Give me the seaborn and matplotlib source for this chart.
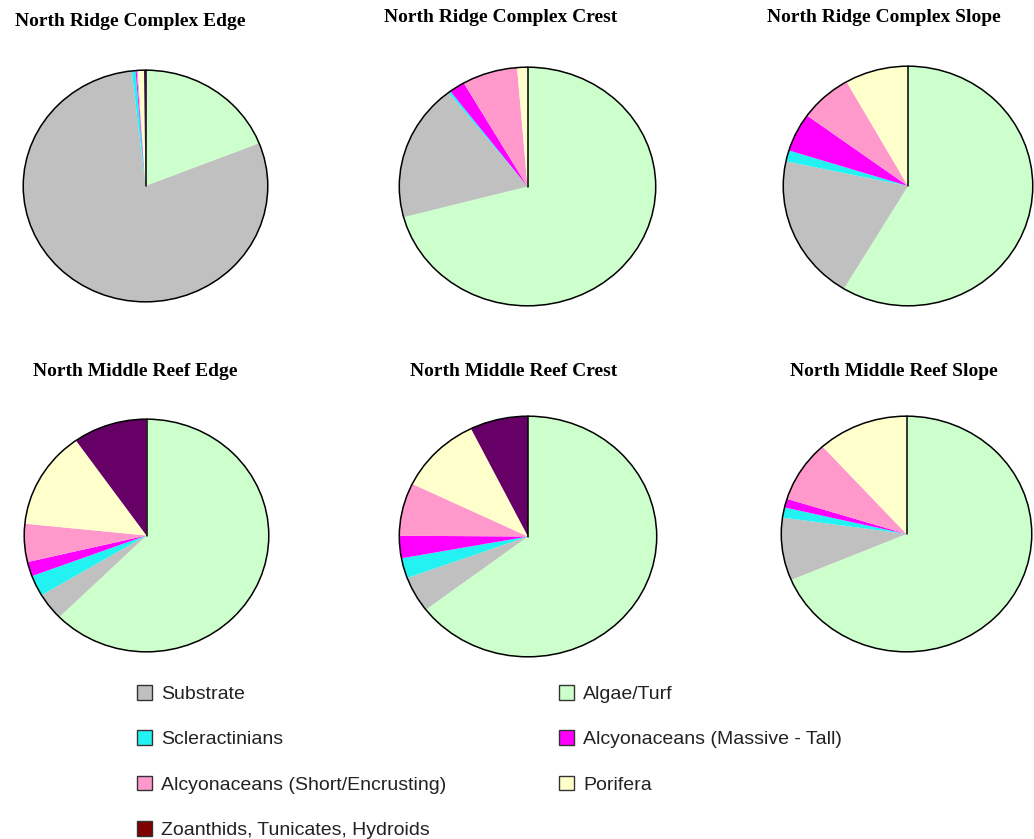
#!/usr/bin/env python3
"""Benthic cover pie charts for North Ridge Complex / North Middle Reef."""

import matplotlib
matplotlib.use("Agg")
import matplotlib.pyplot as plt
import seaborn as sns
from matplotlib.patches import Patch, Ellipse

# ---------------------------------------------------------------------------
# Data (percent cover, clockwise from 12 o'clock)
# ---------------------------------------------------------------------------
categories = [
    "Algae/Turf",
    "Substrate",
    "Scleractinians",
    "Alcyonaceans (Massive - Tall)",
    "Alcyonaceans (Short/Encrusting)",
    "Porifera",
    "Zoanthids, Tunicates, Hydroids",
]

sites = [
    "North Ridge Complex Edge",
    "North Ridge Complex Crest",
    "North Ridge Complex Slope",
    "North Middle Reef Edge",
    "North Middle Reef Crest",
    "North Middle Reef Slope",
]

ridge_edge = [19.0, 79.2, 0.5, 0.15, 0.15, 0.8, 0.2]
ridge_crest = [71.0, 18.6, 0.3, 2.0, 7.0, 1.3, 0.0]
ridge_slope = [58.6, 19.7, 1.5, 5.2, 6.8, 8.2, 0.0]
middle_edge = [62.7, 3.8, 2.9, 2.0, 5.3, 13.6, 9.8]
middle_crest = [64.6, 4.8, 2.7, 3.0, 7.1, 10.5, 7.3]
middle_slope = [68.7, 8.6, 1.4, 1.2, 8.5, 11.7, 0.0]

site_values = [ridge_edge, ridge_crest, ridge_slope,
               middle_edge, middle_crest, middle_slope]

# ---------------------------------------------------------------------------
# Styling
# ---------------------------------------------------------------------------
COLORS = {
    "Algae/Turf": "#CCFFCC",
    "Substrate": "#C0C0C0",
    "Scleractinians": "#22F2F2",
    "Alcyonaceans (Massive - Tall)": "#FF00FF",
    "Alcyonaceans (Short/Encrusting)": "#FF99CC",
    "Porifera": "#FFFFCC",
    "Zoanthids, Tunicates, Hydroids": "#660066",
}
LEGEND_COLORS = dict(COLORS)
LEGEND_COLORS["Zoanthids, Tunicates, Hydroids"] = "#800000"

sns.set_theme(style="white")
plt.rcParams["font.family"] = ["Liberation Sans", "DejaVu Sans"]

W, H = 1034, 839
fig = plt.figure(figsize=(W / 100, H / 100), dpi=100)
fig.patch.set_facecolor("white")

# pie bounding boxes in pixels: (left, top, right, bottom)
boxes = [
    (22, 69, 269, 303),
    (398, 66, 657, 307),
    (782, 65, 1034, 307),
    (23, 418, 270, 653),
    (398, 415, 658, 658),
    (780, 415, 1033, 653),
]
# title centre positions in pixels
title_pos = [(130, 22), (501, 17), (884, 17),
             (135, 371), (514, 371), (894, 371)]

for name, vals, box, tpos in zip(sites, site_values, boxes, title_pos):
    x0, y0, x1, y1 = box
    ax = fig.add_axes([x0 / W, 1 - y1 / H, (x1 - x0) / W, (y1 - y0) / H])
    ax.pie(vals, colors=[COLORS[c] for c in categories], startangle=90,
           counterclock=False, radius=1.0,
           wedgeprops=dict(linewidth=0, edgecolor="none"))
    ax.set_aspect("auto")
    ax.set_xlim(-1.01, 1.01)
    ax.set_ylim(-1.01, 1.01)
    ax.add_patch(Ellipse((0, 0), 2, 2, fill=False, edgecolor="black",
                         linewidth=1.1))
    ax.plot([0, 0], [0, 1], color="black", linewidth=1.1)
    ax.axis("off")
    fig.text(tpos[0] / W, 1 - tpos[1] / H, name, ha="center", va="center",
             fontsize=14, fontweight="bold", family="Liberation Serif",
             color="black")

# ---------------------------------------------------------------------------
# Legend (two columns)
# ---------------------------------------------------------------------------
col1 = [categories[i] for i in (1, 2, 4, 6)]
col2 = [categories[i] for i in (0, 3, 5)]

for items, xpix in ((col1, 137), (col2, 559)):
    handles = [Patch(facecolor=LEGEND_COLORS[c], edgecolor="#333333",
                     linewidth=1.0) for c in items]
    fig.legend(handles, items, loc="upper left",
               bbox_to_anchor=(xpix / W, 1 - 685 / H),
               frameon=False, fontsize=14, handlelength=0.78,
               handleheight=0.78, handletextpad=0.45, labelspacing=1.4,
               borderaxespad=0, borderpad=0, labelcolor="#222222")

fig.savefig("out.png", dpi=100, facecolor="white")
plt.close(fig)
print("Saved: out.png")
